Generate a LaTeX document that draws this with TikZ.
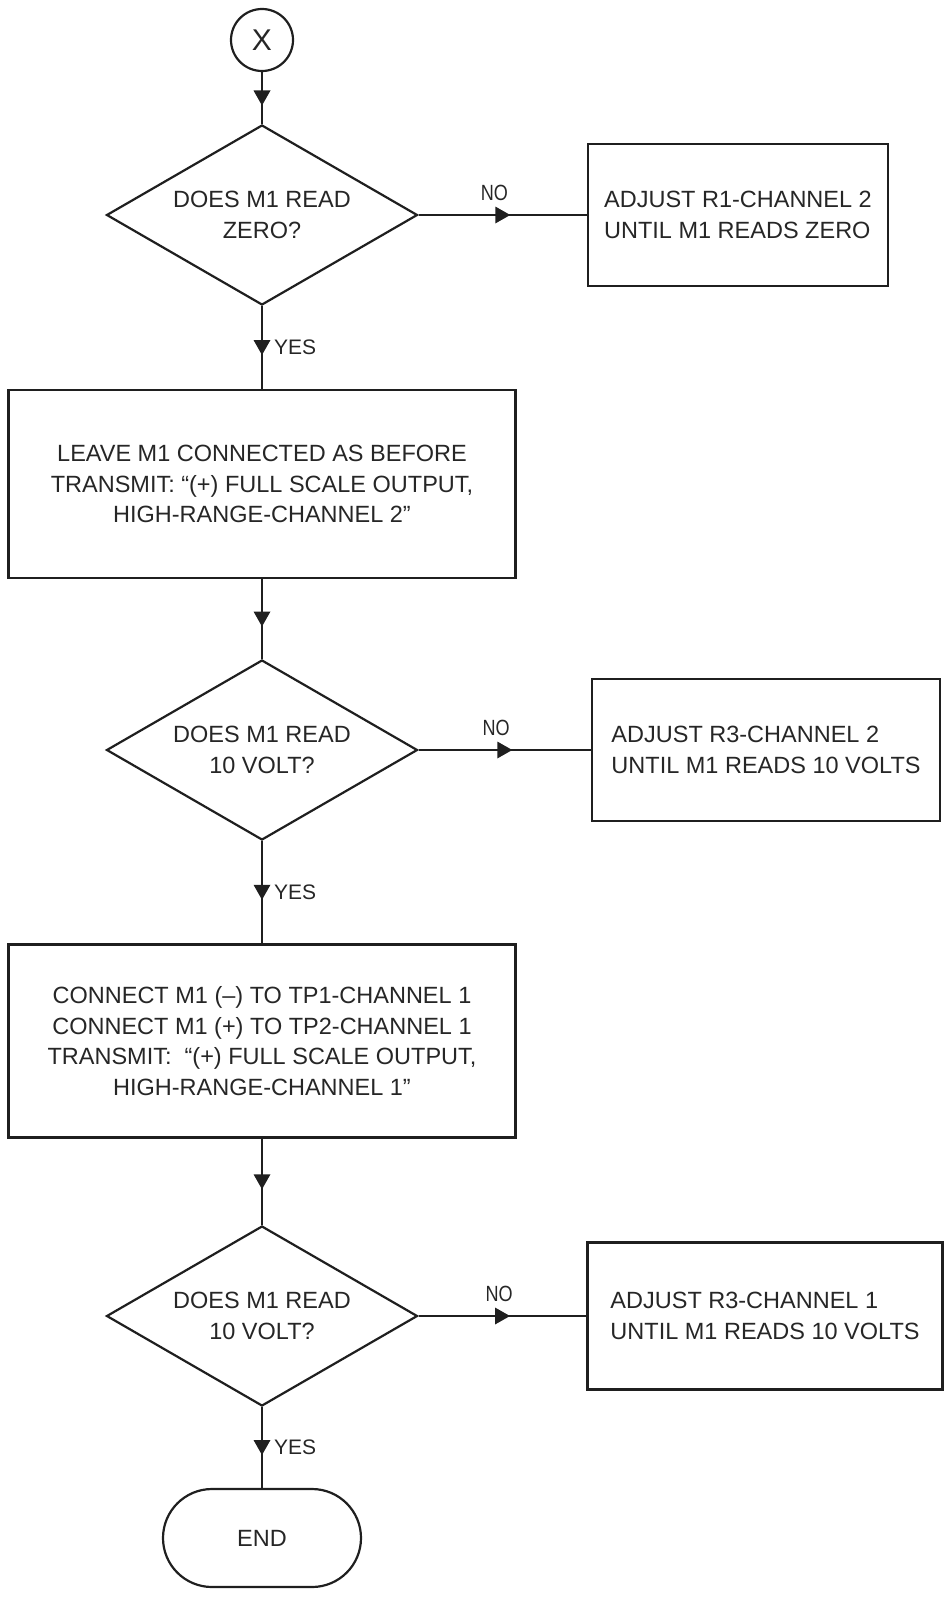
\documentclass[tikz,border=0pt]{standalone}
\usepackage{fontspec}
\setmainfont{Liberation Sans}
\usetikzlibrary{shapes.geometric,decorations.markings}
\begin{document}
\begin{tikzpicture}[x=1pt,y=-1pt,
  ink/.style={draw=black!88, line width=2.2pt},
  txt/.style={font=\fontsize{23.5}{30.5}\selectfont, text=black!85},
  decbox/.style={ink, txt, diamond, aspect=1.7, inner sep=0pt, align=center,
     minimum width=311pt, minimum height=180pt},
  sidebox/.style={ink, txt, rectangle, inner sep=0pt, align=left},
  procbox/.style={ink, txt, rectangle, inner sep=0pt, align=center,
     minimum width=507pt},
  termbox/.style={ink, txt, rectangle, rounded corners=49pt, inner sep=0pt,
     minimum width=198pt, minimum height=98pt},
  connbox/.style={ink, circle, minimum size=62pt, inner sep=0pt,
     font=\fontsize{30}{30}\selectfont, text=black!85},
  conn/.style={ink, decoration={markings, mark=at position 0.5 with
     {\fill[black!88] (7.5pt,0pt) -- (-7.5pt,8.5pt) -- (-7.5pt,-8.5pt) -- cycle;}},
     postaction={decorate}},
  nolab/.style={font=\fontsize{22}{22}\selectfont, text=black!85, inner sep=0pt},
  yeslab/.style={font=\fontsize{21}{21}\selectfont, text=black!85, inner sep=0pt}
]
\useasboundingbox (0,0) rectangle (948,1619);

\node[connbox] (start) at (262,40) {X};
\node[decbox] (d1) at (262,215) {DOES M1 READ\\ZERO?};
\node[sidebox, minimum width=300pt, minimum height=142pt] (b1) at (738,215)
  {ADJUST R1-CHANNEL 2\\UNTIL M1 READS ZERO};
\node[procbox, minimum height=188pt] (pA) at (262,484)
  {LEAVE M1 CONNECTED AS BEFORE\\TRANSMIT: “(+) FULL SCALE OUTPUT,\\HIGH-RANGE-CHANNEL 2”};
\node[decbox] (d2) at (262,750) {DOES M1 READ\\10 VOLT?};
\node[sidebox, minimum width=348pt, minimum height=142pt] (b2) at (766,750)
  {ADJUST R3-CHANNEL 2\\UNTIL M1 READS 10 VOLTS};
\node[procbox, minimum height=193pt] (pB) at (262,1041)
  {CONNECT M1 (–) TO TP1-CHANNEL 1\\CONNECT M1 (+) TO TP2-CHANNEL 1\\TRANSMIT:\ \ “(+) FULL SCALE OUTPUT,\\HIGH-RANGE-CHANNEL 1”};
\node[decbox] (d3) at (262,1316) {DOES M1 READ\\10 VOLT?};
\node[sidebox, minimum width=355pt, minimum height=147pt] (b3) at (765,1316)
  {ADJUST R3-CHANNEL 1\\UNTIL M1 READS 10 VOLTS};
\node[termbox] (end) at (262,1538) {END};

\draw[conn] (start) -- (d1);
\draw[conn] (d1.east) -- node[nolab, pos=0.45, anchor=south, yshift=13pt] {\scalebox{0.82}[1]{NO}} (b1.west);
\draw[conn] (d1.south) -- node[yeslab, anchor=west, xshift=11pt, pos=0.5] {YES} (pA.north);
\draw[conn] (pA) -- (d2);
\draw[conn] (d2.east) -- node[nolab, pos=0.45, anchor=south, yshift=13pt] {\scalebox{0.82}[1]{NO}} (b2.west);
\draw[conn] (d2.south) -- node[yeslab, anchor=west, xshift=11pt, pos=0.5] {YES} (pB.north);
\draw[conn] (pB) -- (d3);
\draw[conn] (d3.east) -- node[nolab, pos=0.48, anchor=south, yshift=13pt] {\scalebox{0.82}[1]{NO}} (b3.west);
\draw[conn] (d3.south) -- node[yeslab, anchor=west, xshift=11pt, pos=0.5] {YES} (end.north);
\end{tikzpicture}
\end{document}
